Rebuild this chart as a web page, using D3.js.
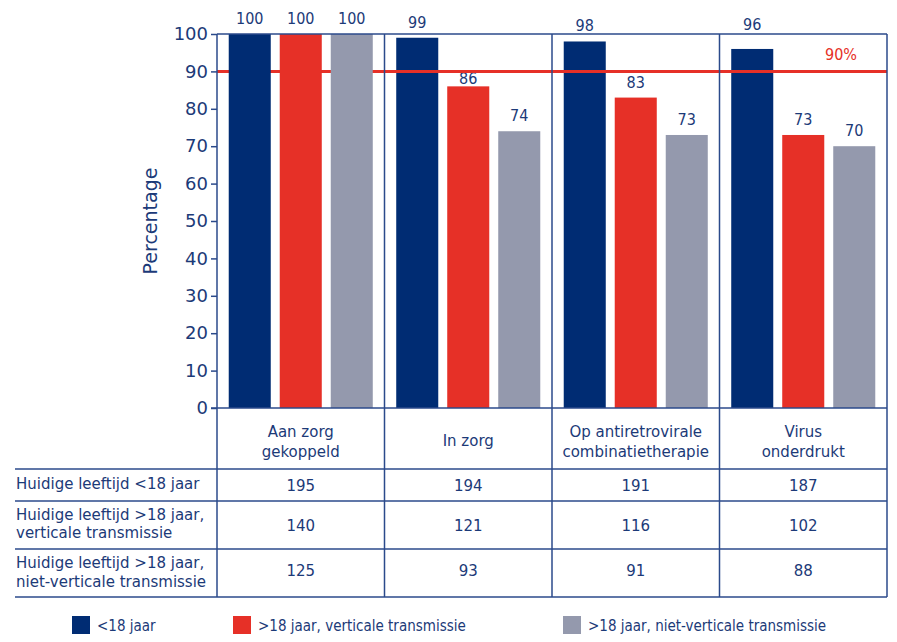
<!DOCTYPE html>
<html>
<head>
<meta charset="utf-8">
<script src="https://cdn.jsdelivr.net/npm/d3@7"></script>
<style>
  body { margin: 0; background: #fff; }
  svg text { font-family: "DejaVu Sans", Verdana, sans-serif; fill: #1c3a78; }
  .cond { font-family: "DejaVu Sans Condensed", "DejaVu Sans", sans-serif; font-stretch: condensed; }
</style>
</head>
<body>
<div id="chart"></div>
<script>
var categories = ["Aan zorg\ngekoppeld", "In zorg", "Op antiretrovirale\ncombinatietherapie", "Virus\nonderdrukt"];
var seriesNames = ["<18 jaar", ">18 jaar, verticale transmissie", ">18 jaar, niet-verticale transmissie"];
var under18 = [100, 99, 98, 96];
var vertical = [100, 86, 83, 73];
var nonVertical = [100, 74, 73, 70];
var yTicks = [0, 10, 20, 30, 40, 50, 60, 70, 80, 90, 100];
var target = 90;

var rowLabels = ["Huidige leeftijd <18 jaar", "Huidige leeftijd >18 jaar,\nverticale transmissie", "Huidige leeftijd >18 jaar,\nniet-verticale transmissie"];
var nUnder18 = [195, 194, 191, 187];
var nVertical = [140, 121, 116, 102];
var nNonVertical = [125, 93, 91, 88];

var colors = ["#002c73", "#e63027", "#9499ad"],
    lineColor = "#2b4a8b",
    width = 897, height = 642,
    plotLeft = 217, plotRight = 887, plotTop = 34, plotBottom = 408,
    rowLines = [469, 501, 549, 597],
    tableLeft = 15;

var seriesValues = [under18, vertical, nonVertical];
var counts = [nUnder18, nVertical, nNonVertical];

var svg = d3.select("#chart").append("svg")
  .attr("width", width)
  .attr("height", height);

var x0 = d3.scaleBand().domain(categories).range([plotLeft, plotRight]).padding(0);
var x1 = d3.scaleBand().domain(d3.range(seriesNames.length))
  .range([0, x0.bandwidth()]).paddingInner(0.176).paddingOuter(0.23);
var y = d3.scaleLinear().domain([0, 100]).range([plotBottom, plotTop]);

// target line behind the first group
svg.append("line")
  .attr("x1", plotLeft).attr("x2", plotRight)
  .attr("y1", y(target)).attr("y2", y(target))
  .style("stroke", colors[1]).style("stroke-width", 3);

// bars
var group = svg.selectAll("g.grp")
  .data(categories)
  .enter().append("g")
  .attr("class", "grp")
  .attr("transform", function(d) { return "translate(" + x0(d) + ",0)"; });

function cells(d, i) {
  return seriesValues.map(function(s, j) { return {s: j, v: s[i]}; });
}

// label baseline: above the bar, moved off the frame top or the target line
function labelY(v) {
  var b = y(v) - 10, h = 11;
  if (b > plotTop && b - h < plotTop) b = plotTop - 4;
  var ly = y(target);
  if (b > ly && b - h < ly) b = ly + h + 2;
  return b;
}

group.selectAll("rect")
  .data(cells)
  .enter().append("rect")
  .attr("x", function(d) { return x1(d.s); })
  .attr("width", x1.bandwidth())
  .attr("y", function(d) { return y(d.v); })
  .attr("height", function(d) { return y(0) - y(d.v); })
  .attr("fill", function(d) { return colors[d.s]; });

group.selectAll("text.val")
  .data(cells)
  .enter().append("text")
  .attr("class", "val cond")
  .attr("x", function(d) { return x1(d.s) + x1.bandwidth() / 2; })
  .attr("y", function(d) { return labelY(d.v); })
  .attr("text-anchor", "middle")
  .style("font-size", "16px")
  .text(function(d) { return d.v; });

// target line over the other groups
svg.append("line")
  .attr("x1", x0(categories[1])).attr("x2", plotRight)
  .attr("y1", y(target)).attr("y2", y(target))
  .style("stroke", colors[1]).style("stroke-width", 3);

svg.append("text")
  .attr("class", "cond")
  .attr("x", 857).attr("y", y(target) - 11)
  .attr("text-anchor", "end")
  .style("fill", colors[1]).style("font-size", "16px")
  .text(target + "%");

// y axis
var yAxis = svg.append("g")
  .attr("transform", "translate(" + plotLeft + ",0)")
  .call(d3.axisLeft(y).tickValues(yTicks).tickSize(6).tickPadding(3));
yAxis.select(".domain").remove();
yAxis.selectAll("line").style("stroke", lineColor).style("stroke-width", 1.5);
yAxis.selectAll("text").style("font-size", "18px").style("fill", "#1c3a78")
  .style("font-family", "'DejaVu Sans', sans-serif");

svg.append("text")
  .attr("transform", "translate(157," + ((plotTop + plotBottom) / 2) + ") rotate(-90)")
  .attr("text-anchor", "middle")
  .style("font-size", "19px")
  .text("Percentage");

// frame and table grid
var bounds = categories.map(function(c) { return x0(c); }).concat([plotRight]);
svg.selectAll("line.vsep")
  .data(bounds)
  .enter().append("line")
  .attr("class", "vsep")
  .attr("x1", function(d) { return d; }).attr("x2", function(d) { return d; })
  .attr("y1", plotTop).attr("y2", rowLines[rowLines.length - 1])
  .style("stroke", lineColor).style("stroke-width", 1.5);

svg.append("line")
  .attr("x1", plotLeft).attr("x2", plotRight).attr("y1", plotTop).attr("y2", plotTop)
  .style("stroke", lineColor).style("stroke-width", 1.5);
svg.append("line")
  .attr("x1", plotLeft - 6).attr("x2", plotRight).attr("y1", plotBottom).attr("y2", plotBottom)
  .style("stroke", lineColor).style("stroke-width", 1.5);

svg.selectAll("line.hrow")
  .data(rowLines)
  .enter().append("line")
  .attr("class", "hrow")
  .attr("x1", tableLeft).attr("x2", plotRight)
  .attr("y1", function(d) { return d; }).attr("y2", function(d) { return d; })
  .style("stroke", lineColor).style("stroke-width", 1.5);

// category header
svg.selectAll("text.cat")
  .data(categories)
  .enter().append("text")
  .attr("class", "cat")
  .attr("text-anchor", "middle")
  .style("font-size", "15px")
  .each(function(d) {
    var lines = d.split("\n"),
        cx = x0(d) + x0.bandwidth() / 2,
        base = lines.length > 1 ? 437 : 446;
    var t = d3.select(this);
    lines.forEach(function(l, k) {
      t.append("tspan").attr("x", cx).attr("y", base + k * 20).text(l);
    });
  });

// table rows
var rowBase = [[489], [520, 538], [568, 587]];
var numBase = [491, 531, 576];
rowLabels.forEach(function(label, r) {
  var t = svg.append("text").style("font-size", "15px");
  label.split("\n").forEach(function(l, k) {
    t.append("tspan").attr("x", tableLeft + 1).attr("y", rowBase[r][k]).text(l);
  });
  svg.selectAll("text.n" + r)
    .data(counts[r])
    .enter().append("text")
    .attr("class", "n" + r)
    .attr("x", function(d, i) { return x0(categories[i]) + x0.bandwidth() / 2; })
    .attr("y", numBase[r])
    .attr("text-anchor", "middle")
    .style("font-size", "15px")
    .text(function(d) { return d; });
});

// legend
var legendX = [72, 233, 563];
var legend = svg.selectAll("g.leg")
  .data(seriesNames)
  .enter().append("g")
  .attr("class", "leg")
  .attr("transform", function(d, i) { return "translate(" + legendX[i] + ",616)"; });
legend.append("rect")
  .attr("width", 18).attr("height", 18)
  .attr("fill", function(d, i) { return colors[i]; });
legend.append("text")
  .attr("class", "cond")
  .attr("x", 25).attr("y", 15)
  .style("font-size", "15px")
  .text(function(d) { return d; });
</script>
</body>
</html>
